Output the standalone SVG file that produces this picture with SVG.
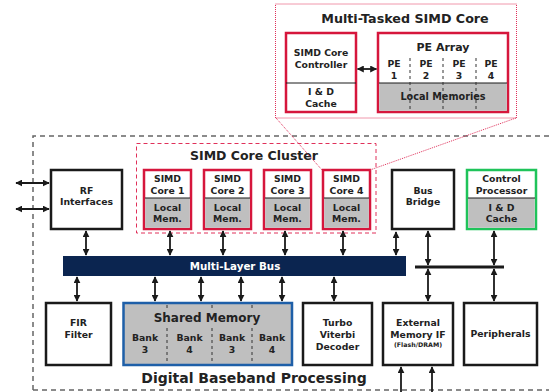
<svg xmlns="http://www.w3.org/2000/svg" width="549" height="392" viewBox="0 0 549 392">
<defs>
<marker id="ah" viewBox="0 0 10 10" refX="9" refY="5" markerWidth="7" markerHeight="7" orient="auto-start-reverse" markerUnits="userSpaceOnUse">
<path d="M0,0 L10,5 L0,10 z" fill="#1a1a1a"/>
</marker>
<style>
text{font-family:"DejaVu Sans","Verdana",sans-serif;font-weight:bold;fill:#222;text-anchor:middle}
.t9{font-size:9.3px}
.blk{fill:#fff;stroke:#1a1a1a;stroke-width:2.5}
.red{fill:#fff;stroke:#d6163c;stroke-width:2.5}
.grn{fill:#fff;stroke:#1fc35a;stroke-width:2.5}
.gray{fill:#bfbfbf}
.div{stroke:#1a1a1a;stroke-width:1}
.dsh{stroke:#333;stroke-width:1;stroke-dasharray:3,3}
.arr{stroke:#1a1a1a;stroke-width:1.8;fill:none;marker-start:url(#ah);marker-end:url(#ah)}
.arr1{stroke:#1a1a1a;stroke-width:1.8;fill:none;marker-end:url(#ah)}
</style>
</defs>
<rect width="549" height="392" fill="#fff"/>

<!-- outer dashed box -->
<g id="digital-baseband">
<path d="M33,390 L33,136 L560,136" fill="none" stroke="#666" stroke-width="1.5" stroke-dasharray="5,4"/>
<path d="M33,390 L560,390" fill="none" stroke="#666" stroke-width="1.5" stroke-dasharray="5,4"/>
<text x="254" y="383" style="font-size:14px">Digital Baseband Processing</text>
</g>

<!-- multi-tasked core -->
<g id="multi-tasked-simd-core">
<rect x="275.5" y="4" width="241" height="114" fill="none" stroke="#e0305a" stroke-width="1" stroke-dasharray="1,1"/>
<text x="405" y="23" style="font-size:12.7px">Multi-Tasked SIMD Core</text>
<g id="simd-core-controller">
<rect x="286" y="33" width="70" height="79" class="red"/>
<line x1="286" y1="83" x2="356" y2="83" class="div"/>
<text x="321" y="56" class="t9">SIMD Core</text>
<text x="321" y="68" class="t9">Controller</text>
<text x="321" y="95" class="t9">I &amp; D</text>
<text x="321" y="107" class="t9">Cache</text>
</g>
<g id="pe-array">
<rect x="378" y="33" width="130" height="79" class="red"/>
<rect x="379.25" y="83" width="127.5" height="27.75" class="gray"/>
<line x1="379" y1="83" x2="507" y2="83" class="div"/>
<line x1="410" y1="58" x2="410" y2="111" class="dsh"/>
<line x1="443" y1="58" x2="443" y2="111" class="dsh"/>
<line x1="476" y1="58" x2="476" y2="111" class="dsh"/>
<text x="443" y="51" style="font-size:11px">PE Array</text>
<text x="394" y="67" class="t9">PE</text><text x="394" y="79" class="t9">1</text>
<text x="426" y="67" class="t9">PE</text><text x="426" y="79" class="t9">2</text>
<text x="459" y="67" class="t9">PE</text><text x="459" y="79" class="t9">3</text>
<text x="491" y="67" class="t9">PE</text><text x="491" y="79" class="t9">4</text>
<text x="443" y="100" style="font-size:9.7px">Local Memories</text>
</g>
</g>

<!-- SIMD core cluster -->
<g id="simd-core-cluster">
<rect x="136.5" y="143.5" width="239.5" height="89.5" fill="none" stroke="#e0305a" stroke-width="1" stroke-dasharray="4,3"/>
<text x="254" y="160" style="font-size:12.5px">SIMD Core Cluster</text>
</g>
<g id="simd-core-1">
<rect x="144" y="170" width="47" height="59" class="red"/>
<rect x="145.25" y="198" width="44.5" height="29.75" class="gray"/>
<line x1="145" y1="198" x2="190" y2="198" class="div"/>
<text x="167.5" y="182" class="t9">SIMD</text><text x="167.5" y="194" class="t9">Core 1</text>
<text x="167.5" y="211" class="t9">Local</text><text x="167.5" y="222" class="t9">Mem.</text>
</g>
<g id="simd-core-2">
<rect x="204" y="170" width="47" height="59" class="red"/>
<rect x="205.25" y="198" width="44.5" height="29.75" class="gray"/>
<line x1="205" y1="198" x2="250" y2="198" class="div"/>
<text x="227.5" y="182" class="t9">SIMD</text><text x="227.5" y="194" class="t9">Core 2</text>
<text x="227.5" y="211" class="t9">Local</text><text x="227.5" y="222" class="t9">Mem.</text>
</g>
<g id="simd-core-3">
<rect x="264" y="170" width="47" height="59" class="red"/>
<rect x="265.25" y="198" width="44.5" height="29.75" class="gray"/>
<line x1="265" y1="198" x2="310" y2="198" class="div"/>
<text x="287.5" y="182" class="t9">SIMD</text><text x="287.5" y="194" class="t9">Core 3</text>
<text x="287.5" y="211" class="t9">Local</text><text x="287.5" y="222" class="t9">Mem.</text>
</g>
<g id="simd-core-4">
<rect x="323" y="170" width="47" height="59" class="red"/>
<rect x="324.25" y="198" width="44.5" height="29.75" class="gray"/>
<line x1="324" y1="198" x2="369" y2="198" class="div"/>
<text x="346.5" y="182" class="t9">SIMD</text><text x="346.5" y="194" class="t9">Core 4</text>
<text x="346.5" y="211" class="t9">Local</text><text x="346.5" y="222" class="t9">Mem.</text>
</g>

<g id="rf-interfaces">
<rect x="51" y="170" width="71" height="59" class="blk"/>
<text x="86.5" y="194" class="t9">RF</text>
<text x="86.5" y="205" class="t9">Interfaces</text>
</g>
<g id="bus-bridge">
<rect x="392" y="170" width="62" height="59" class="blk"/>
<text x="423" y="194" class="t9">Bus</text>
<text x="423" y="205" class="t9">Bridge</text>
</g>
<g id="control-processor">
<rect x="467" y="170" width="69" height="59" class="grn"/>
<rect x="468.25" y="198" width="66.5" height="29.75" class="gray"/>
<line x1="468" y1="198" x2="535" y2="198" class="div"/>
<text x="501.5" y="182" class="t9">Control</text><text x="501.5" y="194" class="t9">Processor</text>
<text x="501.5" y="211" class="t9">I &amp; D</text><text x="501.5" y="222" class="t9">Cache</text>
</g>

<g id="multi-layer-bus">
<rect x="63" y="256" width="343" height="20" fill="#0b2550"/>
<text x="235" y="270" style="font-size:10.3px;fill:#fff">Multi-Layer Bus</text>
</g>
<g id="bridge-bus">
<line x1="415" y1="267" x2="504" y2="267" stroke="#1a1a1a" stroke-width="3"/>
</g>

<g id="fir-filter">
<rect x="46" y="303" width="65" height="62" class="blk"/>
<text x="78.5" y="326" class="t9">FIR</text>
<text x="78.5" y="338" class="t9">Filter</text>
</g>
<g id="shared-memory">
<rect x="123.5" y="303" width="168.5" height="62" fill="#bfbfbf" stroke="#1e5fa8" stroke-width="2.5"/>
<line x1="167" y1="305" x2="167" y2="310" class="dsh"/>
<line x1="212" y1="305" x2="212" y2="310" class="dsh"/>
<line x1="252" y1="305" x2="252" y2="310" class="dsh"/>
<line x1="167" y1="328" x2="167" y2="364" class="dsh"/>
<line x1="212" y1="328" x2="212" y2="364" class="dsh"/>
<line x1="252" y1="328" x2="252" y2="364" class="dsh"/>
<text x="207" y="322" style="font-size:12px">Shared Memory</text>
<text x="145" y="341" class="t9">Bank</text><text x="145" y="353" class="t9">3</text>
<text x="189.5" y="341" class="t9">Bank</text><text x="189.5" y="353" class="t9">4</text>
<text x="232" y="341" class="t9">Bank</text><text x="232" y="353" class="t9">3</text>
<text x="272" y="341" class="t9">Bank</text><text x="272" y="353" class="t9">4</text>
</g>
<g id="turbo-viterbi-decoder">
<rect x="303" y="303" width="69" height="62" class="blk"/>
<text x="337.5" y="326" class="t9">Turbo</text>
<text x="337.5" y="338" class="t9">Viterbi</text>
<text x="337.5" y="350" class="t9">Decoder</text>
</g>
<g id="external-memory-if">
<rect x="383" y="303" width="70" height="62" class="blk"/>
<text x="418" y="326" class="t9">External</text>
<text x="418" y="338" class="t9">Memory IF</text>
<text x="418" y="347" style="font-size:6.3px">(Flash/DRAM)</text>
</g>
<g id="peripherals">
<rect x="464" y="303" width="73" height="62" class="blk"/>
<text x="500.5" y="337" class="t9">Peripherals</text>
</g>

<g id="connectors">
<line x1="276" y1="118" x2="322" y2="170" stroke="#e0305a" stroke-width="1" stroke-dasharray="1,1"/>
<line x1="516" y1="118" x2="370" y2="170" stroke="#e0305a" stroke-width="1" stroke-dasharray="1,1"/>
<line x1="357.5" y1="69" x2="376.5" y2="69" class="arr"/>
<line x1="16" y1="183" x2="49" y2="183" class="arr"/>
<line x1="16" y1="209" x2="49" y2="209" class="arr"/>
<line x1="86" y1="231" x2="86" y2="255" class="arr"/>
<line x1="170" y1="231" x2="170" y2="255" class="arr"/>
<line x1="223" y1="231" x2="223" y2="255" class="arr"/>
<line x1="285" y1="231" x2="285" y2="255" class="arr"/>
<line x1="343" y1="231" x2="343" y2="255" class="arr"/>
<line x1="396" y1="232" x2="396" y2="255" class="arr"/>
<line x1="428" y1="231" x2="428" y2="265" class="arr"/>
<line x1="494" y1="231" x2="494" y2="265" class="arr"/>
<line x1="77" y1="277" x2="77" y2="301" class="arr"/>
<line x1="155" y1="277" x2="155" y2="301" class="arr"/>
<line x1="201" y1="277" x2="201" y2="301" class="arr"/>
<line x1="241" y1="277" x2="241" y2="301" class="arr"/>
<line x1="282" y1="277" x2="282" y2="301" class="arr"/>
<line x1="334" y1="277" x2="334" y2="301" class="arr"/>
<line x1="428" y1="269" x2="428" y2="301" class="arr"/>
<line x1="494" y1="269" x2="494" y2="301" class="arr"/>
<line x1="401" y1="392" x2="401" y2="367" class="arr1"/>
<line x1="432" y1="392" x2="432" y2="367" class="arr1"/>
</g>
</svg>
